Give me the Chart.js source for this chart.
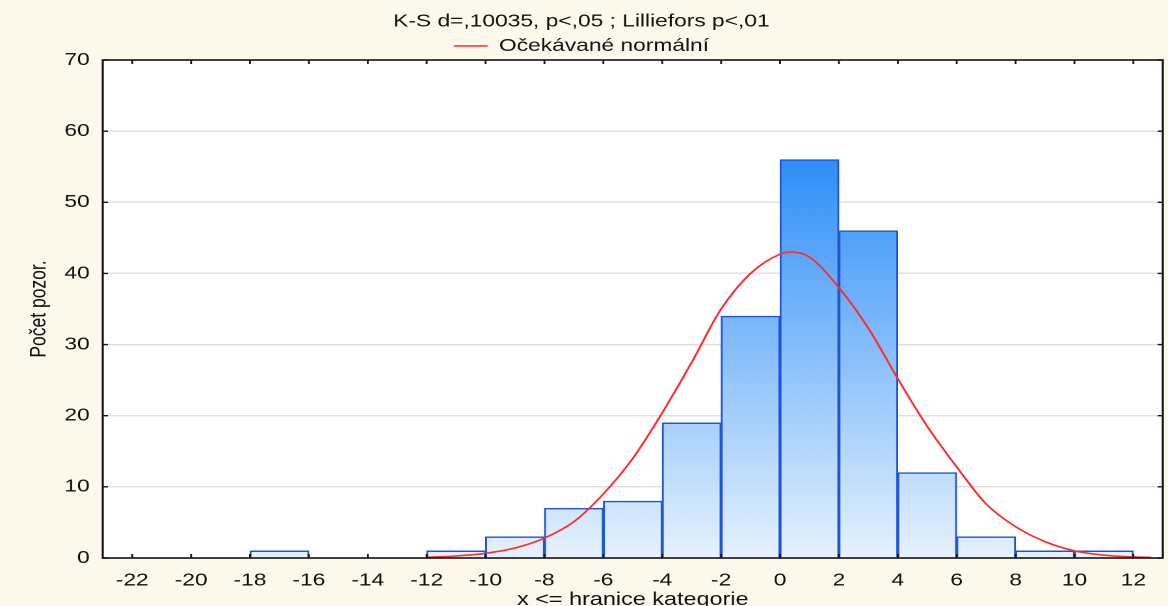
<!DOCTYPE html>
<html lang="cs">
<head>
<meta charset="utf-8">
<title>Histogram – Počet pozor.</title>
<script src="https://cdn.jsdelivr.net/npm/chart.js@4.4.1/dist/chart.umd.min.js"></script>
<style>
  html, body { margin: 0; padding: 0; background: #fdf8ec; overflow: hidden; }
  /* The chart is laid out at its native 898px width and stretched to fill the 1168px page */
  #wrap { width: 898px; height: 606px; transform: scaleX(1.300668); transform-origin: 0 0; }
  #c { display: block; }
</style>
</head>
<body>
<div id="wrap"><canvas id="c" width="898" height="606"></canvas></div>
<script>
// Histogram classes (lower / upper bounds) and observed counts
const binLower = [-18, -12, -10, -8, -6, -4, -2, 0, 2, 4, 6, 8, 10];
const binUpper = [-16, -10, -8, -6, -4, -2, 0, 2, 4, 6, 8, 10, 12];
const counts   = [1, 1, 3, 7, 8, 19, 34, 56, 46, 12, 3, 1, 1];

// Expected normal curve (x, expected count)
const curveX = [-12, -11, -10, -9, -8, -7, -6, -5, -4, -3, -2, -1, 0, 0.4, 1, 2, 3, 4, 5, 6, 7, 8, 9, 10, 11, 12, 12.6];
const curveY = [0.1, 0.28, 0.66, 1.4, 2.8, 5.1, 9.0, 14.0, 20.4, 27.5, 35.0, 40.0, 42.7, 43.0, 42.3, 38.0, 32.3, 25.2, 18.5, 12.8, 7.6, 4.4, 2.3, 1.0, 0.4, 0.15, 0.08];

// Axis tick labels
const xTicks = [-22, -20, -18, -16, -14, -12, -10, -8, -6, -4, -2, 0, 2, 4, 6, 8, 10, 12];
const yTicks = [0, 10, 20, 30, 40, 50, 60, 70];

const FAMILY = '"Liberation Sans", Arial, Helvetica, sans-serif';
const TEXT = '#111111';

// Vertical blue gradient for the bars, tied to the value axis
function barFill(context) {
  const chart = context.chart;
  const area = chart.chartArea;
  if (!area) return '#8cc2fa';
  const y = chart.scales.y;
  const g = chart.ctx.createLinearGradient(0, y.getPixelForValue(0), 0, y.getPixelForValue(56));
  g.addColorStop(0, '#e7f2fd');
  g.addColorStop(1, '#2f8ef8');
  return g;
}

// White plot area, black frame and inward tick marks
const plotFrame = {
  id: 'plotFrame',
  beforeDraw(chart) {
    const { ctx, chartArea: a } = chart;
    ctx.save();
    ctx.fillStyle = '#ffffff';
    ctx.fillRect(a.left, a.top, a.right - a.left, a.bottom - a.top);
    ctx.restore();
  },
  afterDatasetsDraw(chart) {
    const { ctx, chartArea: a, scales: { x, y } } = chart;
    ctx.save();
    ctx.strokeStyle = '#151515';
    ctx.lineWidth = 1.4;
    ctx.beginPath();
    x.ticks.forEach(t => {
      const px = x.getPixelForValue(t.value);
      ctx.moveTo(px, a.top); ctx.lineTo(px, a.top + 4);
      ctx.moveTo(px, a.bottom); ctx.lineTo(px, a.bottom - 4);
    });
    y.ticks.forEach(t => {
      const py = y.getPixelForValue(t.value);
      ctx.moveTo(a.left, py); ctx.lineTo(a.left + 4, py);
      ctx.moveTo(a.right, py); ctx.lineTo(a.right - 4, py);
    });
    ctx.stroke();
    ctx.lineWidth = 1.6;
    ctx.strokeRect(a.left, a.top, a.right - a.left, a.bottom - a.top);
    ctx.restore();
  }
};

new Chart(document.getElementById('c'), {
  type: 'bar',
  data: {
    datasets: [
      {
        type: 'line',
        label: 'Očekávané normální',
        data: curveX.map((x, i) => ({ x, y: curveY[i] })),
        borderColor: '#ff2a2a',
        borderWidth: 1.6,
        pointRadius: 0,
        fill: false,
        cubicInterpolationMode: 'monotone',
        order: 0
      },
      {
        type: 'bar',
        label: 'Počet pozor.',
        data: binLower.map((lo, i) => ({ x: (lo + binUpper[i]) / 2, y: counts[i] })),
        backgroundColor: barFill,
        borderColor: '#1f56d6',
        borderWidth: 1.5,
        barPercentage: 1,
        categoryPercentage: 1,
        order: 1
      }
    ]
  },
  options: {
    responsive: false,
    devicePixelRatio: 2,
    animation: false,
    events: [],
    layout: { padding: { left: 0, right: 4, top: 0, bottom: 0 } },
    plugins: {
      title: {
        display: true,
        text: 'K-S d=,10035, p<,05 ; Lilliefors p<,01',
        color: TEXT,
        font: { family: FAMILY, size: 17.5, weight: 'normal' },
        padding: { top: 11, bottom: 0 }
      },
      legend: {
        display: true,
        position: 'top',
        maxHeight: 28,
        labels: {
          usePointStyle: true,
          pointStyle: 'line',
          pointStyleWidth: 26,
          padding: 5.25,
          color: TEXT,
          font: { family: FAMILY, size: 17.5 },
          filter: item => item.datasetIndex === 0
        }
      },
      tooltip: { enabled: false }
    },
    scales: {
      x: {
        type: 'linear',
        min: -23,
        max: 13,
        offset: false,
        afterBuildTicks: s => { s.ticks = xTicks.map(v => ({ value: v })); },
        afterFit: s => { s.height = 48; },
        grid: { display: false, drawTicks: false },
        border: { display: false },
        ticks: {
          autoSkip: false,
          maxRotation: 0,
          padding: 12,
          color: TEXT,
          font: { family: FAMILY, size: 17.5 },
          callback: v => String(v)
        },
        title: {
          display: true,
          text: 'x <= hranice kategorie',
          color: TEXT,
          font: { family: FAMILY, size: 18 },
          padding: { top: 0, bottom: -5 }
        }
      },
      y: {
        min: 0,
        max: 70,
        afterBuildTicks: s => { s.ticks = yTicks.map(v => ({ value: v })); },
        afterFit: s => { s.width = 79; },
        grid: { color: '#dedede', lineWidth: 1.4, drawTicks: false },
        border: { display: false },
        ticks: {
          padding: 10,
          color: TEXT,
          font: { family: FAMILY, size: 17.5 },
          callback: v => String(v)
        },
        title: {
          display: true,
          text: 'Počet pozor.',
          color: TEXT,
          font: { family: FAMILY, size: 17.5 },
          padding: { top: 19.5, bottom: 0 }
        }
      }
    }
  },
  plugins: [plotFrame]
});
</script>
</body>
</html>
